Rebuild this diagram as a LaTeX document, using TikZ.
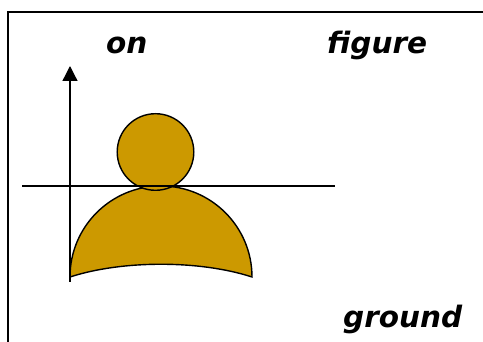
\documentclass[tikz,border=0pt]{standalone}
\usepackage{fontspec}
\setmainfont{DejaVu Sans}
\usetikzlibrary{arrows.meta}
\definecolor{gold}{RGB}{204,153,0}
\tikzset{
  lbl/.style={font=\fontsize{29.5}{33}\selectfont\bfseries\itshape, inner sep=0pt, anchor=base west},
  goldshape/.style={draw=black, line width=1.4pt, fill=gold},
  ln/.style={draw=black, line width=1.3pt}
}
\begin{document}
\begin{tikzpicture}[x=1pt,y=-1pt]
\useasboundingbox (0,0) rectangle (483,342);
\clip (0,0) rectangle (483,342);
\draw[line width=1.3pt] (8,360) -- (8,12) -- (500,12);
% body
\draw[goldshape] (70,277) arc[start angle=180, end angle=360, radius=91]
  .. controls (200,260) and (122,260) .. (70,277) -- cycle;
% head
\draw[goldshape] (155.5,152) circle[radius=38.3];
% axes
\coordinate (ybot) at (70,282);
\coordinate (ytop) at (70,66);
\draw[ln, -{Triangle[length=15pt,width=15pt]}] (ybot) -- (ytop);
\coordinate (hl) at (22,186);
\coordinate (hr) at (335,186);
\draw[ln] (hl) -- (hr);
% labels
\node[lbl] (on) at (106,54) {on};
\node[lbl] (figure) at (327,54) {figure};
\node[lbl] (ground) at (343,328) {ground};
\end{tikzpicture}
\end{document}
